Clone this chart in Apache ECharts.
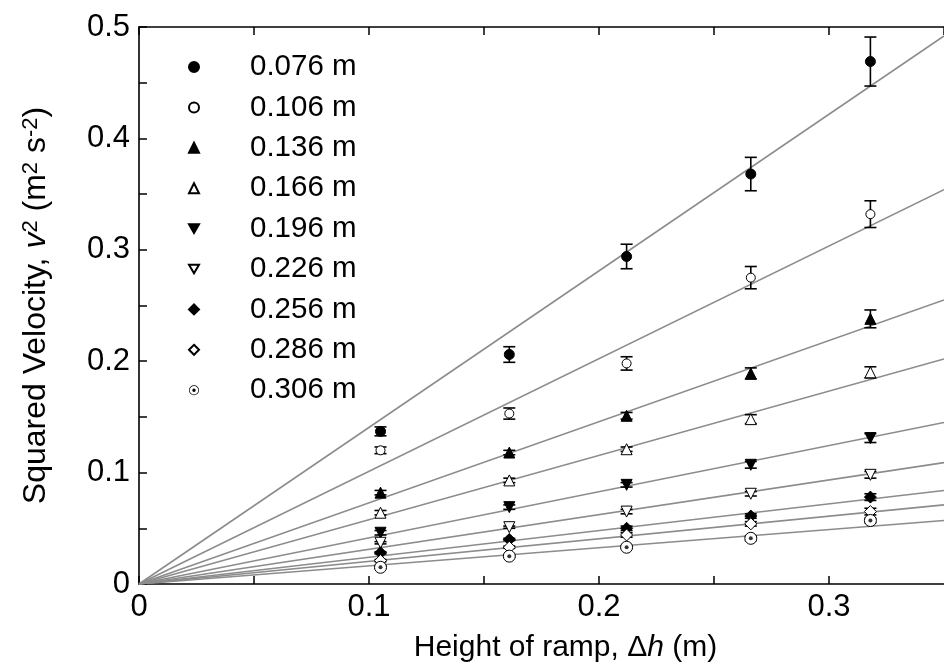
<!DOCTYPE html>
<html>
<head>
<meta charset="utf-8">
<script src="https://cdn.jsdelivr.net/npm/echarts@6/dist/echarts.min.js"></script>
<style>
  html, body { margin: 0; padding: 0; background: #fff; }
  #chart { width: 944px; height: 668px; }
</style>
</head>
<body>
<div id="chart"></div>
<script>
// ramp heights (x) shared by every series
const heights = [0.105, 0.161, 0.212, 0.266, 0.318];

const seriesNames = ['0.076 m', '0.106 m', '0.136 m', '0.166 m', '0.196 m', '0.226 m', '0.256 m', '0.286 m', '0.306 m'];

// squared velocity v^2 (m^2 s^-2)
const v076 = [0.137, 0.206, 0.294, 0.368, 0.469];
const v106 = [0.120, 0.153, 0.198, 0.275, 0.332];
const v136 = [0.082, 0.118, 0.151, 0.189, 0.238];
const v166 = [0.064, 0.093, 0.121, 0.148, 0.190];
const v196 = [0.046, 0.069, 0.089, 0.107, 0.131];
const v226 = [0.037, 0.051, 0.065, 0.081, 0.098];
const v256 = [0.028, 0.040, 0.050, 0.061, 0.078];
const v286 = [0.021, 0.033, 0.044, 0.054, 0.065];
const v306 = [0.015, 0.025, 0.033, 0.041, 0.057];

// error bar half widths
const e076 = [0.004, 0.007, 0.011, 0.015, 0.022];
const e106 = [0.003, 0.005, 0.006, 0.010, 0.012];
const e136 = [0.002, 0.002, 0.003, 0.005, 0.008];
const e166 = [0.002, 0.002, 0.002, 0.004, 0.005];
const e196 = [0.002, 0.002, 0.002, 0.003, 0.004];
const e226 = [0.001, 0.001, 0.002, 0.002, 0.003];
const e256 = [0.001, 0.001, 0.002, 0.002, 0.003];
const e286 = [0.001, 0.001, 0.002, 0.002, 0.003];
const e306 = [0.001, 0.001, 0.001, 0.002, 0.002];

// linear fits through origin: value at right edge
const fitX = [0, 0.35];
const fitEnd = [0.492, 0.354, 0.255, 0.202, 0.145, 0.109, 0.084, 0.071, 0.057];

const values = [v076, v106, v136, v166, v196, v226, v256, v286, v306];
const errors = [e076, e106, e136, e166, e196, e226, e256, e286, e306];

const FONT = 'Liberation Sans, Arial, Helvetica, sans-serif';

const downTri = 'path://M0,0 L20,0 L10,17.3 Z';
const ringDot = 'path://M10,0 A10,10 0 1,1 10,20 A10,10 0 1,1 10,0 Z ' +
  'M10,1.4 A8.6,8.6 0 1,0 10,18.6 A8.6,8.6 0 1,0 10,1.4 Z ' +
  'M10,6.6 A3.4,3.4 0 1,1 10,13.4 A3.4,3.4 0 1,1 10,6.6 Z';

// marker look per series
const markers = [
  { symbol: 'circle', size: 10, fill: '#000' },
  { symbol: 'circle', size: 9, fill: '#fff' },
  { symbol: 'triangle', size: 11, fill: '#000' },
  { symbol: 'triangle', size: 11, fill: '#fff' },
  { symbol: downTri, size: 11, fill: '#000' },
  { symbol: downTri, size: 11, fill: '#fff' },
  { symbol: 'diamond', size: 12, fill: '#000' },
  { symbol: 'diamond', size: 12, fill: '#fff' },
  { symbol: 'circle', size: 12, fill: '#fff' }
];

const series = [];

// fit lines
fitEnd.forEach((end, i) => {
  series.push({
    name: 'fit ' + seriesNames[i],
    type: 'line',
    data: [[fitX[0], 0], [fitX[1], end]],
    showSymbol: false,
    symbol: 'none',
    silent: true,
    z: 1,
    lineStyle: { color: '#8c8c8c', width: 1.6 }
  });
});

// error bars
const errData = [];
values.forEach((vals, i) => {
  vals.forEach((v, j) => errData.push([heights[j], v, errors[i][j]]));
});
series.push({
  name: 'errors',
  type: 'custom',
  z: 2,
  silent: true,
  encode: { x: 0, y: 1 },
  data: errData,
  renderItem(params, api) {
    const x = api.value(0), y = api.value(1), e = api.value(2);
    const hi = api.coord([x, y + e]);
    const lo = api.coord([x, y - e]);
    const cap = 6;
    const st = { stroke: '#000', lineWidth: 1.6 };
    return {
      type: 'group',
      children: [
        { type: 'line', shape: { x1: hi[0], y1: hi[1], x2: lo[0], y2: lo[1] }, style: st },
        { type: 'line', shape: { x1: hi[0] - cap, y1: hi[1], x2: hi[0] + cap, y2: hi[1] }, style: st },
        { type: 'line', shape: { x1: lo[0] - cap, y1: lo[1], x2: lo[0] + cap, y2: lo[1] }, style: st }
      ]
    };
  }
});

// markers
values.forEach((vals, i) => {
  const m = markers[i];
  series.push({
    name: seriesNames[i],
    type: 'scatter',
    z: 3,
    symbol: m.symbol,
    symbolSize: m.size,
    itemStyle: { color: m.fill, borderColor: '#000', borderWidth: 1, opacity: 1 },
    data: vals.map((v, j) => [heights[j], v])
  });
});
// centre dot of the 0.306 m markers
series.push({
  name: 'dot 0.306',
  type: 'scatter',
  z: 4,
  symbol: 'circle',
  symbolSize: 4,
  itemStyle: { color: '#000' },
  data: v306.map((v, j) => [heights[j], v])
});

const legendData = seriesNames.map((n, i) => {
  if (i === 8) {
    return { name: n, icon: ringDot, itemStyle: { color: '#000', borderWidth: 0 } };
  }
  return { name: n };
});

const tickLabel = v => {
  const k = Math.round(v * 100);
  if (k % 10 !== 0) return '';
  return k === 0 ? '0' : (k / 100).toFixed(1);
};

const chart = echarts.init(document.getElementById('chart'));
chart.setOption({
  animation: false,
  backgroundColor: '#fff',
  textStyle: { fontFamily: FONT },
  grid: { left: 139, right: 0, top: 27, bottom: 84 },
  legend: {
    orient: 'vertical',
    left: 183,
    top: 47,
    itemWidth: 10,
    itemHeight: 10,
    itemGap: 10.4,
    selectedMode: false,
    data: legendData,
    textStyle: { fontSize: 29.5, lineHeight: 30, color: '#000', fontFamily: FONT, padding: [0, 0, 0, 46] }
  },
  xAxis: [
    {
      type: 'value',
      min: 0,
      max: 0.35,
      interval: 0.05,
      splitLine: { show: false },
      axisLine: { lineStyle: { color: '#000', width: 1.6 } },
      axisTick: { inside: true, length: 8, lineStyle: { color: '#000', width: 1.5 } },
      axisLabel: { formatter: tickLabel, fontSize: 31, color: '#000', margin: 8, fontFamily: FONT, showMaxLabel: false },
      name: 'Height of ramp, Δ{it|h} (m)',
      nameLocation: 'middle',
      nameGap: 49,
      nameTextStyle: {
        fontSize: 30, color: '#000', fontFamily: FONT, padding: [0, 0, 0, 48],
        rich: { it: { fontSize: 30, fontStyle: 'italic', fontFamily: FONT, color: '#000' } }
      }
    },
    {
      type: 'value',
      position: 'top',
      min: 0,
      max: 0.35,
      interval: 0.05,
      splitLine: { show: false },
      axisLine: { lineStyle: { color: '#000', width: 1.6 } },
      axisTick: { inside: true, length: 8, lineStyle: { color: '#000', width: 1.5 } },
      axisLabel: { show: false }
    }
  ],
  yAxis: {
    type: 'value',
    min: 0,
    max: 0.5,
    interval: 0.05,
    splitLine: { show: false },
    axisLine: { show: true, lineStyle: { color: '#000', width: 1.6 } },
    axisTick: { show: true, inside: true, length: 8, lineStyle: { color: '#000', width: 1.5 } },
    axisLabel: { formatter: tickLabel, fontSize: 31, color: '#000', margin: 9, fontFamily: FONT },
    name: 'Squared Velocity, {it|v}{sup|2} (m{sup|2} s{sup|-2})',
    nameLocation: 'middle',
    nameGap: 87,
    nameTextStyle: {
      fontSize: 32, color: '#000', fontFamily: FONT,
      rich: {
        it: { fontSize: 32, fontStyle: 'italic', fontFamily: FONT, color: '#000' },
        sup: { fontSize: 22, verticalAlign: 'top', fontFamily: FONT, color: '#000' }
      }
    }
  },
  series: series
});
</script>
</body>
</html>
